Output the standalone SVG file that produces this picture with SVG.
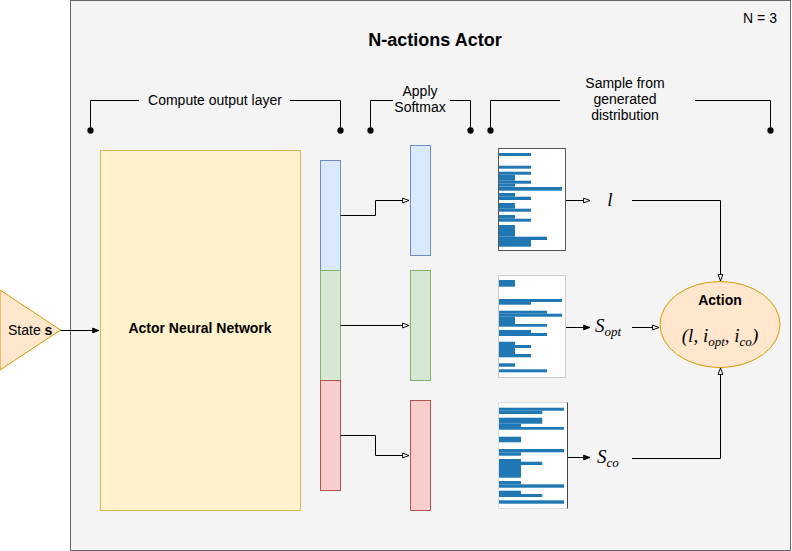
<svg xmlns="http://www.w3.org/2000/svg" width="792" height="551" viewBox="0 0 792 551">
<defs>
<style>
text{font-family:"Liberation Sans",Arial,sans-serif;font-size:14px;fill:#000}
.b{font-weight:bold}
.m{font-family:"Liberation Serif","Times New Roman",serif;font-style:italic}
.c{fill:none;stroke:#000;stroke-width:1}
.bar{fill:#1f77b4}
.blue{fill:#dae8fc;stroke:#6c8ebf}
.green{fill:#d5e8d4;stroke:#82b366}
.red{fill:#f8cecc;stroke:#b85450}
</style>
<marker id="open" viewBox="0 0 10 10" refX="9" refY="5" markerWidth="8" markerHeight="8" orient="auto" markerUnits="userSpaceOnUse">
<path d="M1,2 L9,5 L1,8 Z" fill="#fff" stroke="#000" stroke-width="1.2"/>
</marker>
<marker id="fill" viewBox="0 0 10 10" refX="9" refY="5" markerWidth="8" markerHeight="8" orient="auto" markerUnits="userSpaceOnUse">
<path d="M1,2 L9,5 L1,8 Z" fill="#000" stroke="#000" stroke-width="1"/>
</marker>
<marker id="dot" viewBox="0 0 10 10" refX="5" refY="5" markerWidth="7" markerHeight="7" markerUnits="userSpaceOnUse">
<circle cx="5" cy="5" r="4.5" fill="#000"/>
</marker>
</defs>

<g id="container">
<rect x="70.5" y="0.5" width="720" height="550" fill="#f4f4f4" stroke="#666" stroke-width="1"/>
<text x="435" y="46" class="b" text-anchor="middle" style="font-size:18px">N-actions Actor</text>
<text x="760" y="23" text-anchor="middle">N = 3</text>
</g>

<g id="brackets">
<path class="c" d="M90.5,130.5 V100.5 H139" marker-start="url(#dot)"/>
<path class="c" d="M290,100.5 H340.5 V130.5" marker-end="url(#dot)"/>
<text x="215" y="105" text-anchor="middle">Compute output layer</text>
<path class="c" d="M370.5,130.5 V100.5 H393" marker-start="url(#dot)"/>
<path class="c" d="M450,100.5 H470.5 V130.5" marker-end="url(#dot)"/>
<text x="420" y="96" text-anchor="middle">Apply</text>
<text x="420" y="112" text-anchor="middle">Softmax</text>
<path class="c" d="M490.5,130.5 V100.5 H560" marker-start="url(#dot)"/>
<path class="c" d="M695,100.5 H770.5 V130.5" marker-end="url(#dot)"/>
<text x="625" y="87.5" text-anchor="middle">Sample from</text>
<text x="625" y="104" text-anchor="middle">generated</text>
<text x="625" y="120" text-anchor="middle">distribution</text>
</g>

<g id="state">
<path d="M0,290 L60.5,330 L0,370 Z" fill="#ffe6cc" stroke="#d79b00"/>
<text x="8" y="334.5">State <tspan class="b">s</tspan></text>
</g>

<g id="actor-nn">
<rect x="100.5" y="150.5" width="200" height="360" fill="#fff2cc" stroke="#d6b656"/>
<text x="200" y="333" class="b" text-anchor="middle">Actor Neural Network</text>
</g>

<g id="out-l"><rect x="320.5" y="160.5" width="20" height="110" class="blue"/></g>
<g id="out-opt"><rect x="320.5" y="270.5" width="20" height="110" class="green"/></g>
<g id="out-co"><rect x="320.5" y="380.5" width="20" height="110" class="red"/></g>

<g id="soft-l"><rect x="410.5" y="145.5" width="20" height="110" class="blue"/></g>
<g id="soft-opt"><rect x="410.5" y="270.5" width="20" height="110" class="green"/></g>
<g id="soft-co"><rect x="410.5" y="400.5" width="20" height="110" class="red"/></g>

<g id="dist-l">
<rect x="498.5" y="148.5" width="67" height="102" fill="#fff" stroke="#555"/>
<rect class="bar" x="499" y="153" width="32" height="3"/>
<rect class="bar" x="499" y="165.7" width="32" height="3"/>
<rect class="bar" x="499" y="171.7" width="32" height="3"/>
<rect class="bar" x="499" y="174.7" width="16" height="6"/>
<rect class="bar" x="499" y="180.7" width="32" height="3"/>
<rect class="bar" x="499" y="183.7" width="16" height="3"/>
<rect class="bar" x="499" y="187" width="63" height="3.7"/>
<rect class="bar" x="499" y="193" width="16" height="3.7"/>
<rect class="bar" x="499" y="196.7" width="32" height="3.3"/>
<rect class="bar" x="499" y="203" width="16" height="5.7"/>
<rect class="bar" x="499" y="208.7" width="32" height="3"/>
<rect class="bar" x="499" y="215" width="16" height="3.7"/>
<rect class="bar" x="499" y="218.7" width="32" height="3"/>
<rect class="bar" x="499" y="225" width="16" height="11.7"/>
<rect class="bar" x="499" y="236.7" width="48" height="3.3"/>
<rect class="bar" x="499" y="240" width="32" height="6.7"/>
</g>

<g id="dist-opt">
<rect x="498.5" y="275.5" width="67" height="102" fill="#fff" stroke="#ccc"/>
<rect class="bar" x="499" y="280" width="16" height="6.7"/>
<rect class="bar" x="499" y="299" width="63" height="3"/>
<rect class="bar" x="499" y="302" width="32" height="2.7"/>
<rect class="bar" x="499" y="310.7" width="48" height="3"/>
<rect class="bar" x="499" y="313.7" width="63" height="3"/>
<rect class="bar" x="499" y="316.7" width="16" height="7.3"/>
<rect class="bar" x="499" y="324" width="48" height="2.7"/>
<rect class="bar" x="499" y="330" width="32" height="3"/>
<rect class="bar" x="499" y="333" width="48" height="3"/>
<rect class="bar" x="499" y="341.7" width="16" height="3.3"/>
<rect class="bar" x="499" y="345" width="32" height="3"/>
<rect class="bar" x="499" y="348" width="16" height="6"/>
<rect class="bar" x="499" y="354" width="32" height="3.3"/>
<rect class="bar" x="499" y="363.3" width="16" height="3.4"/>
<rect class="bar" x="499" y="369.3" width="48" height="3"/>
</g>

<g id="dist-co">
<rect x="498.5" y="402.5" width="69" height="106" fill="#fff" stroke="#ddd"/>
<path d="M567.5,402.5 V508.5" stroke="#444" fill="none"/>
<rect class="bar" x="499" y="407.7" width="65" height="3"/>
<rect class="bar" x="499" y="410.7" width="43.3" height="3.3"/>
<rect class="bar" x="499" y="417.7" width="43.3" height="6"/>
<rect class="bar" x="499" y="423.7" width="22" height="3.3"/>
<rect class="bar" x="499" y="427" width="65" height="2.7"/>
<rect class="bar" x="499" y="436.7" width="22" height="5.6"/>
<rect class="bar" x="499" y="449" width="65" height="3.3"/>
<rect class="bar" x="499" y="452.3" width="22" height="3.4"/>
<rect class="bar" x="499" y="459" width="22" height="18.7"/>
<rect class="bar" x="499" y="461.7" width="43.3" height="3.3"/>
<rect class="bar" x="499" y="481" width="22" height="3.3"/>
<rect class="bar" x="499" y="484.3" width="65" height="3.4"/>
<rect class="bar" x="499" y="490.7" width="22" height="3.3"/>
<rect class="bar" x="499" y="494" width="43.3" height="3"/>
<rect class="bar" x="499" y="500.3" width="65" height="3.4"/>
</g>

<g id="label-l"><text x="610" y="206" class="m" text-anchor="middle" style="font-size:19px">l</text></g>
<g id="label-opt"><text x="595" y="332" class="m" style="font-size:19px">S<tspan dy="4" style="font-size:13px">opt</tspan></text></g>
<g id="label-co"><text x="597" y="463" class="m" style="font-size:19px">S<tspan dy="4" style="font-size:13px">co</tspan></text></g>

<g id="action">
<ellipse cx="720" cy="324.5" rx="60" ry="43" fill="#ffe6cc" stroke="#d79b00"/>
<text x="720" y="305" class="b" text-anchor="middle">Action</text>
<text x="720" y="342" class="m" text-anchor="middle" style="font-size:19px">(l, i<tspan dy="4" style="font-size:13px">opt</tspan><tspan dy="-4">, i</tspan><tspan dy="4" style="font-size:13px">co</tspan><tspan dy="-4">)</tspan></text>
</g>

<g id="connectors">
<path class="c" d="M60.5,330.5 H99" marker-end="url(#fill)"/>
<path class="c" d="M340.5,215.5 H375.5 V200.5 H409" marker-end="url(#open)"/>
<path class="c" d="M340.5,325.5 H409" marker-end="url(#open)"/>
<path class="c" d="M340.5,435.5 H375.5 V455.5 H409" marker-end="url(#open)"/>
<path class="c" d="M566,200.5 H590" marker-end="url(#open)"/>
<path class="c" d="M566,327.5 H590" marker-end="url(#fill)"/>
<path class="c" d="M568,457.5 H590" marker-end="url(#fill)"/>
<path class="c" d="M632,200.5 H720.5 V281" marker-end="url(#open)"/>
<path class="c" d="M632,327.5 H659" marker-end="url(#open)"/>
<path class="c" d="M632,458.5 H720.5 V368" marker-end="url(#open)"/>
</g>
</svg>
